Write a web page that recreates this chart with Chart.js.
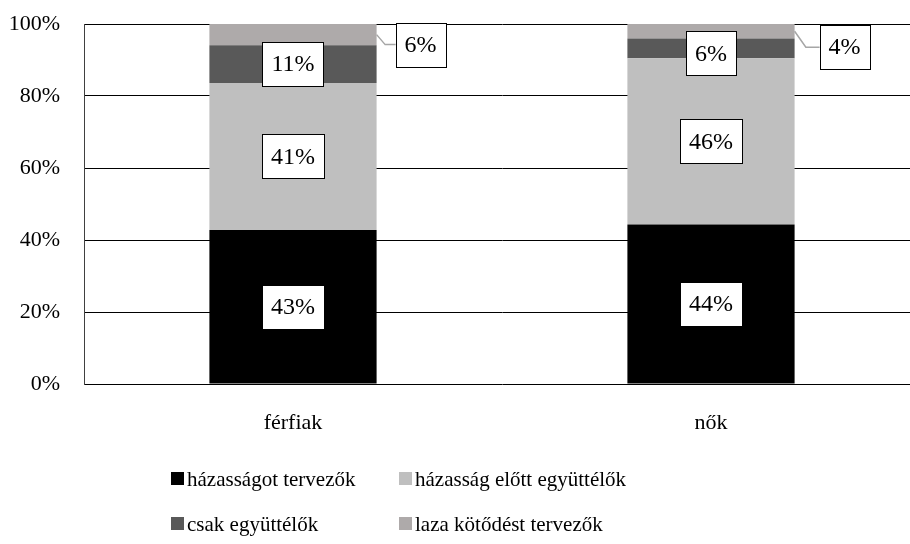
<!DOCTYPE html>
<html><head><meta charset="utf-8">
<script src="https://cdn.jsdelivr.net/npm/chart.js@4"></script>
<style>
html,body{margin:0;padding:0;background:#fff;overflow:hidden;width:910px;height:544px}
#wrap{position:absolute;left:0;top:0;width:920px;height:544px}
</style>
</head><body><div id="wrap"><canvas id="c" width="920" height="544"></canvas></div>
<script>
const categories = ['férfiak', 'nők'];
const seriesNames = ['házasságot tervezők', 'házasság előtt együttélők', 'csak együttélők', 'laza kötődést tervezők'];
const hazassagotTervezok = [42.8, 44.3];
const hazassagElottEgyuttelok = [40.8, 46.2];
const csakEgyuttelok = [10.5, 5.5];
const lazaKotodestTervezok = [5.9, 4.0];
const yTickValues = [0, 20, 40, 60, 80, 100];

const FONT = "'Liberation Serif', 'DejaVu Serif', serif";
const colors = ['#000000', '#BFBFBF', '#595959', '#AEAAAA'];
const seriesValues = [hazassagotTervezok, hazassagElottEgyuttelok, csakEgyuttelok, lazaKotodestTervezok];

// label placement tweaks (style, not data)
const innerLabelDy = [[0, 0], [0, 0], [0, 5], [0, 0]];
const outerLabelDx = [44, 50];
const outerLabelDy = [10, 16];

const labelPlugin = {
  id: 'boxLabels',
  afterDatasetsDraw(chart) {
    const ctx = chart.ctx;
    ctx.save();
    ctx.font = '24px ' + FONT;
    ctx.textAlign = 'center';
    ctx.textBaseline = 'middle';
    const nDs = chart.data.datasets.length;
    chart.data.datasets.forEach((ds, i) => {
      const meta = chart.getDatasetMeta(i);
      meta.data.forEach((bar, j) => {
        const txt = Math.round(ds.data[j]) + '%';
        const w = ctx.measureText(txt).width;
        const bw = w + 18, bh = 44;
        let cx, cy;
        const segMid = (bar.y + bar.base) / 2;
        if (i === nDs - 1) {
          const right = bar.x + bar.width / 2;
          cx = right + outerLabelDx[j];
          cy = segMid + outerLabelDy[j];
          const left = cx - bw / 2;
          ctx.beginPath();
          ctx.strokeStyle = '#A6A6A6';
          ctx.lineWidth = 1.5;
          ctx.moveTo(right, segMid);
          ctx.lineTo(right + (left - right) * 0.45, cy);
          ctx.lineTo(left, cy);
          ctx.stroke();
        } else {
          cx = bar.x;
          cy = segMid + innerLabelDy[i][j];
        }
        const x0 = Math.round(cx - bw / 2) + 0.5, y0 = Math.round(cy - bh / 2) + 0.5;
        ctx.fillStyle = '#ffffff';
        ctx.fillRect(x0, y0, Math.round(bw), bh);
        ctx.strokeStyle = '#000000';
        ctx.lineWidth = 1;
        ctx.strokeRect(x0, y0, Math.round(bw), bh);
        ctx.fillStyle = '#000000';
        ctx.fillText(txt, cx, cy + 1);
      });
    });
    ctx.restore();
  }
};

const legendPlugin = {
  id: 'gridLegend',
  afterDraw(chart) {
    const ctx = chart.ctx;
    const colX = [171, 399];
    const rowY = [479, 524];
    ctx.save();
    ctx.font = '21px ' + FONT;
    ctx.textAlign = 'left';
    ctx.textBaseline = 'middle';
    chart.data.datasets.forEach((ds, i) => {
      const x = colX[i % 2], y = rowY[Math.floor(i / 2)];
      ctx.fillStyle = ds.backgroundColor;
      ctx.fillRect(x, y - 7, 13, 13);
      ctx.fillStyle = '#000';
      ctx.fillText(ds.label, x + 16, y + 1);
    });
    ctx.restore();
  }
};

new Chart(document.getElementById('c'), {
  type: 'bar',
  data: {
    labels: categories,
    datasets: seriesNames.map((name, i) => ({
      label: name,
      data: seriesValues[i],
      backgroundColor: colors[i],
      borderWidth: 0,
      barPercentage: 0.4,
      categoryPercentage: 1.0
    }))
  },
  options: {
    responsive: false,
    animation: false,
    devicePixelRatio: 1,
    layout: { padding: { top: 24, right: 0, bottom: 0, left: 0 } },
    plugins: { legend: { display: false }, tooltip: { enabled: false } },
    scales: {
      x: {
        stacked: true,
        grid: { display: false, drawTicks: false },
        border: { display: false },
        ticks: { font: { family: FONT, size: 22 }, color: '#000', padding: 26 },
        afterFit(s) { s.height = 160; s.paddingLeft = 0; s.paddingRight = 0; }
      },
      y: {
        stacked: true,
        min: 0, max: 100,
        afterBuildTicks(s) { s.ticks = yTickValues.map(v => ({ value: v })); },
        ticks: { font: { family: FONT, size: 22 }, color: '#000', padding: 24, callback: v => v + '%' },
        grid: { color: '#000', lineWidth: 1, drawTicks: false },
        border: { display: true, color: '#404040', width: 1 },
        afterFit(s) { s.width = 84; s.paddingTop = 0; s.paddingBottom = 0; }
      }
    }
  },
  plugins: [labelPlugin, legendPlugin]
});
</script>
</body></html>
